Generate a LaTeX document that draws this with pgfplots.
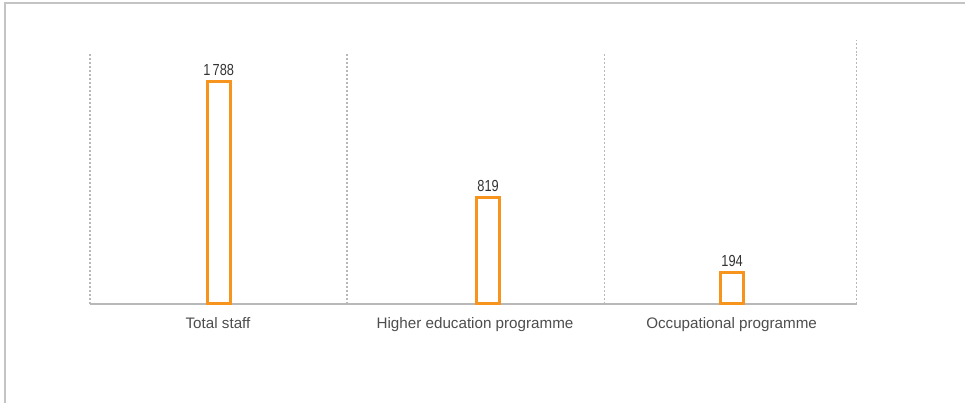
\documentclass[border=0pt]{standalone}
\usepackage{fontspec}
\setmainfont{Liberation Sans}
\usepackage{graphicx}
\usepackage{pgfplots}
\pgfplotsset{compat=1.18}
\definecolor{barorange}{HTML}{F7941D}
\definecolor{gridgray}{HTML}{B8B8B8}
\definecolor{framegray}{HTML}{C4C4C4}
\definecolor{labelgray}{HTML}{4D4D4D}
\definecolor{numgray}{HTML}{333333}

\begin{document}
\begin{tikzpicture}
\useasboundingbox (-67.5pt,-74.25pt) rectangle (656.25pt,228pt);
\draw[framegray, line width=1.1pt] (-63.75pt,-74.25pt) -- (-63.75pt,225.75pt) -- (656.25pt,225.75pt);
\begin{axis}[
 at={(0,0)}, anchor=south west,
 width=574.9pt, height=188.25pt, scale only axis,
 xmin=0, xmax=3, ymin=0, ymax=2098,
 axis line style={draw=none},
 ytick=\empty,
 xtick={0.501,1.507,2.511},
 xticklabels={Total staff, Higher education programme, Occupational programme},
 major tick length=0pt,
 xticklabel style={font=\fontsize{11.4}{13}\selectfont, text=labelgray, yshift=-6.5pt},
 extra x ticks={0,1.006,2.012,3},
 extra x tick labels={},
 extra x tick style={grid=major, major grid style={gridgray, line width=0.85pt, dash pattern=on 1.5pt off 1.5pt}},
 extra y ticks={0}, extra y tick labels={},
 extra y tick style={grid=major, major grid style={gridgray, line width=1.1pt, solid}},
 clip=false,
 ybar, bar width=16.9pt, bar shift=0pt,
 nodes near coords={\scalebox{0.8}[1]{\pgfplotspointmeta}},
 point meta=explicit symbolic,
 every node near coord/.append style={font=\fontsize{12}{14}\selectfont, text=numgray, inner sep=3.3pt},
 y filter/.expression={y+70},
]
\addplot[draw=barorange, fill=none, line width=2.25pt] coordinates {(0.504,1788) [1\,788] (1.558,819) [819] (2.513,194) [194]};
\draw[gridgray, line width=0.85pt, dash pattern=on 1.5pt off 1.5pt] (axis cs:3,2098) -- (axis cs:3,2206);
\end{axis}
\end{tikzpicture}
\end{document}
